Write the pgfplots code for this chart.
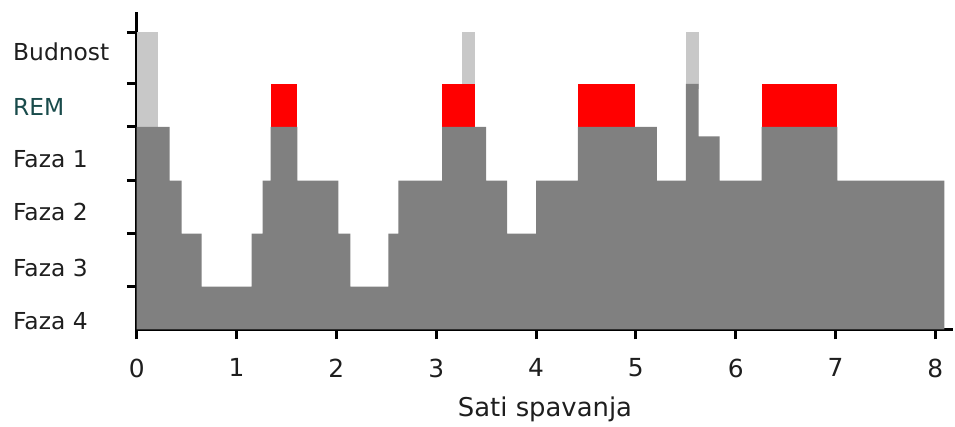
\documentclass[border=0pt]{standalone}
\usepackage{pgfplots}
\pgfplotsset{compat=1.18}
\usepackage{fontspec}
\setmainfont{DejaVu Sans}
\definecolor{stagegray}{RGB}{128,128,128}
\definecolor{wakegray}{RGB}{200,200,200}
\definecolor{remred}{RGB}{255,0,0}
\definecolor{remteal}{RGB}{25,75,75}
\definecolor{txt}{RGB}{30,30,30}
\begin{document}
\begin{tikzpicture}
\begin{axis}[
  scale only axis,
  width=818bp, height=318bp,
  xmin=0, xmax=8.18, ymin=0, ymax=6,
  axis x line=bottom, axis y line=left,
  axis line style={-, line width=3.5pt, black},
  tick style={line width=3pt, black},
  tick align=outside,
  major tick length=10bp,
  xtick={0,1,2,3,4,5,6,7,8},
  ytick={0.81,1.81,2.81,3.83,4.64,5.62},
  yticklabels={},
  extra y ticks={0.15,1.17,2.21,3.21,4.21,5.25},
  extra y tick labels={Faza 4,Faza 3,Faza 2,Faza 1,\textcolor{remteal}{REM},Budnost},
  extra y tick style={major tick length=0pt, yticklabel style={anchor=west, xshift=-124bp, inner sep=0pt}},
  font=\fontsize{23.5}{28}\selectfont,
  ticklabel style={font=\fontsize{23.5}{28}\selectfont, text=txt},
  xticklabel style={yshift=-16bp, font=\fontsize{25}{30}\selectfont},
  /pgf/number format/assume math mode=true,
  xlabel={Sati spavanja},
  xlabel style={at={(axis description cs:0.5,0)}, anchor=center, yshift=-80bp, text=txt, font=\fontsize{26}{30}\selectfont},
  clip=false,
]
% awake (light gray) segments
\addplot[fill=wakegray, draw=none] coordinates {(0,3.7) (0,5.62) (0.21,5.62) (0.21,3.7)} -- cycle;
\addplot[fill=wakegray, draw=none] coordinates {(3.26,4.55) (3.26,5.62) (3.39,5.62) (3.39,4.55)} -- cycle;
\addplot[fill=wakegray, draw=none] coordinates {(5.50,4.55) (5.50,5.62) (5.63,5.62) (5.63,4.55)} -- cycle;
% REM (red) segments
\addplot[fill=remred, draw=none] coordinates {(1.34,3.75) (1.34,4.64) (1.61,4.64) (1.61,3.75)} -- cycle;
\addplot[fill=remred, draw=none] coordinates {(3.06,3.75) (3.06,4.64) (3.39,4.64) (3.39,3.75)} -- cycle;
\addplot[fill=remred, draw=none] coordinates {(4.42,3.75) (4.42,4.64) (4.99,4.64) (4.99,3.75)} -- cycle;
\addplot[fill=remred, draw=none] coordinates {(6.26,3.75) (6.26,4.64) (7.02,4.64) (7.02,3.75)} -- cycle;
% sleep stages (gray)
\addplot[const plot, fill=stagegray, draw=none] coordinates {
 (0,3.83) (0.33,2.81) (0.45,1.81) (0.65,0.81) (1.15,1.81) (1.26,2.81) (1.34,3.83) (1.61,2.81)
 (2.02,1.81) (2.14,0.81) (2.52,1.81) (2.62,2.81) (3.06,3.83) (3.50,2.81) (3.71,1.81) (4.00,2.81)
 (4.42,3.83) (5.21,2.81) (5.50,4.64) (5.63,3.65) (5.84,2.81) (6.26,3.83) (7.02,2.81) (8.09,2.81)
} \closedcycle;
\end{axis}
\path[use as bounding box] (-137bp,-97bp) rectangle (818bp,330bp);
\end{tikzpicture}
\end{document}
